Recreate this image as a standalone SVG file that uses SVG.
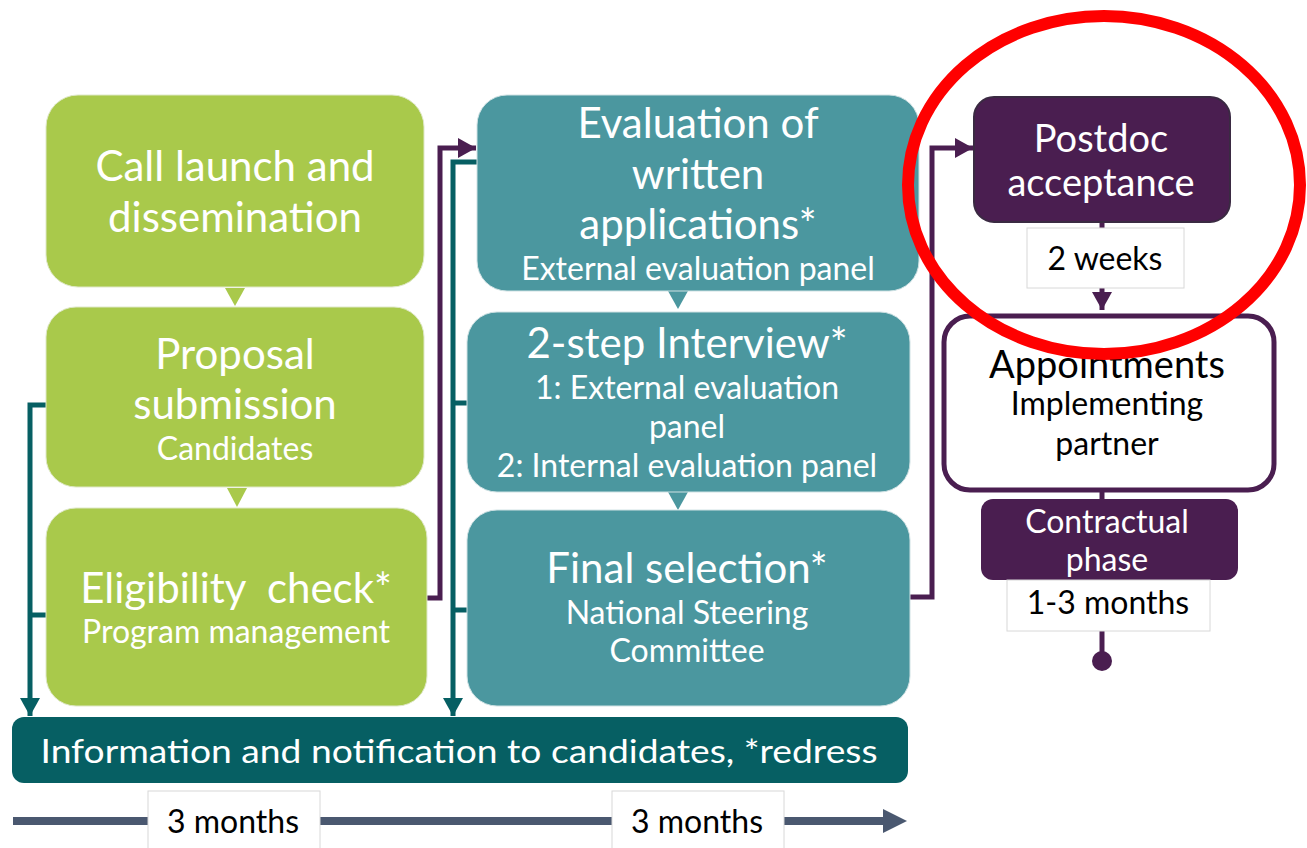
<svg xmlns="http://www.w3.org/2000/svg" width="1307" height="848" viewBox="0 0 1307 848">
<defs>
<style>
text{font-family:Lato,"Open Sans","Liberation Sans",sans-serif;text-anchor:middle}
.g{fill:#a9c94b;stroke:#dfe8c8;stroke-width:1}
.t{fill:#4b979f;stroke:#d0e2e4;stroke-width:1}
.w{fill:#fff}
.k{fill:#000}
.big{font-size:42px}
.sm{font-size:32px}
.md{font-size:38px}
.lbl{fill:#fff;stroke:#d8d8d8;stroke-width:1}
.tl{stroke:#065f63;stroke-width:5;fill:none}
.pl{stroke:#4a1e50;stroke-width:5;fill:none}
</style>
<marker id="ah-teal" markerWidth="4" markerHeight="4" refX="3.6" refY="2" orient="auto" markerUnits="strokeWidth"><path d="M0,0 L3.6,2 L0,4 z" fill="#065f63"/></marker>
<marker id="ah-pur" markerWidth="4" markerHeight="4" refX="3.6" refY="2" orient="auto" markerUnits="strokeWidth"><path d="M0,0 L3.6,2 L0,4 z" fill="#4a1e50"/></marker>
</defs>
<rect width="1307" height="848" fill="#fff"/>

<g id="connectors">
<path class="tl" d="M46,405 H30 V716" marker-end="url(#ah-teal)"/>
<path class="tl" d="M46,615 H30"/>
<path class="pl" d="M427,598 H440 V148 H476" marker-end="url(#ah-pur)"/>
<path class="tl" d="M478,162 H453 V716" marker-end="url(#ah-teal)"/>
<path class="tl" d="M467,403 H453"/>
<path class="tl" d="M467,610 H453"/>
<path class="pl" d="M888,597 H932 V148 H973" marker-end="url(#ah-pur)"/>
<path class="pl" d="M1102,222 V310" marker-end="url(#ah-pur)"/>
<path class="pl" d="M1102,492 V500"/>
<path class="pl" d="M1102,630 V660"/>
<circle cx="1102" cy="661" r="10" fill="#4a1e50"/>
<path d="M225,288 L245,288 L235,306 z" fill="#a9c94b"/>
<path d="M227,488 L247,488 L237,507 z" fill="#a9c94b"/>
<path d="M668,291 L688,291 L678,309 z" fill="#4b979f"/>
<path d="M668,492 L688,492 L678,510 z" fill="#4b979f"/>
<path d="M13,821 H886" stroke="#4a5870" stroke-width="8"/>
<path d="M883,809 L907,821 L883,833 z" fill="#4a5870"/>
</g>

<g id="call-launch">
<rect class="g" x="46" y="95" width="378" height="192" rx="32"/>
<text class="w big" x="235" y="181">Call launch and</text>
<text class="w big" x="235" y="232">dissemination</text>
</g>
<g id="proposal">
<rect class="g" x="46" y="307" width="378" height="180" rx="30"/>
<text class="w big" x="235" y="369">Proposal</text>
<text class="w big" x="235" y="419">submission</text>
<text class="w sm" x="235" y="460">Candidates</text>
</g>
<g id="eligibility">
<rect class="g" x="46" y="508" width="381" height="198" rx="30"/>
<text class="w big" x="236" y="603" xml:space="preserve">Eligibility  check*</text>
<text class="w sm" x="236" y="643">Program management</text>
</g>

<g id="evaluation">
<rect class="t" x="477" y="95" width="442" height="196" rx="30"/>
<text class="w big" x="698" y="138">Evaluation of</text>
<text class="w big" x="698" y="189">written</text>
<text class="w big" x="698" y="239">applications*</text>
<text class="w sm" x="698" y="280">External evaluation panel</text>
</g>
<g id="interview">
<rect class="t" x="467" y="312" width="443" height="180" rx="30"/>
<text class="w big" x="687" y="358">2-step Interview*</text>
<text class="w sm" x="687" y="399">1: External evaluation</text>
<text class="w sm" x="687" y="438">panel</text>
<text class="w sm" x="687" y="477">2: Internal evaluation panel</text>
</g>
<g id="final-selection">
<rect class="t" x="467" y="510" width="443" height="196" rx="30"/>
<text class="w big" x="687" y="583">Final selection*</text>
<text class="w sm" x="687" y="624">National Steering</text>
<text class="w sm" x="687" y="662">Committee</text>
</g>

<g id="information">
<rect x="12" y="717" width="896" height="66" rx="12" fill="#065f63"/>
<text class="w" x="459" y="763" font-size="32" textLength="837" lengthAdjust="spacingAndGlyphs">Information and notification to candidates, *redress</text>
</g>

<g id="postdoc">
<rect x="974" y="97" width="256" height="125" rx="20" fill="#4a1e50" stroke="#3a2a42" stroke-width="2"/>
<text class="w md" x="1101" y="152">Postdoc</text>
<text class="w md" x="1101" y="196">acceptance</text>
</g>
<g id="two-weeks">
<rect class="lbl" x="1027" y="228" width="157" height="60"/>
<text class="k sm" x="1105" y="270">2 weeks</text>
</g>
<g id="appointments">
<rect x="944" y="316" width="330" height="174" rx="26" fill="#fff" stroke="#4a1e50" stroke-width="5"/>
<text class="k md" x="1107" y="378">Appointments</text>
<text class="k sm" x="1107" y="415">Implementing</text>
<text class="k sm" x="1107" y="455">partner</text>
</g>
<g id="contractual">
<rect x="981" y="499" width="257" height="81" rx="12" fill="#4a1e50"/>
<text class="w sm" x="1107" y="533">Contractual</text>
<text class="w sm" x="1107" y="571">phase</text>
</g>
<g id="one-three-months">
<rect class="lbl" x="1007" y="580" width="203" height="51"/>
<text class="k sm" x="1108" y="614">1-3 months</text>
</g>

<g id="three-months-1">
<rect class="lbl" x="148" y="791" width="172" height="60"/>
<text class="k sm" x="233" y="833">3 months</text>
</g>
<g id="three-months-2">
<rect class="lbl" x="612" y="791" width="172" height="60"/>
<text class="k sm" x="697" y="833">3 months</text>
</g>

<ellipse id="highlight" cx="1104" cy="185" rx="196" ry="169" fill="none" stroke="#ff0000" stroke-width="12"/>
</svg>
